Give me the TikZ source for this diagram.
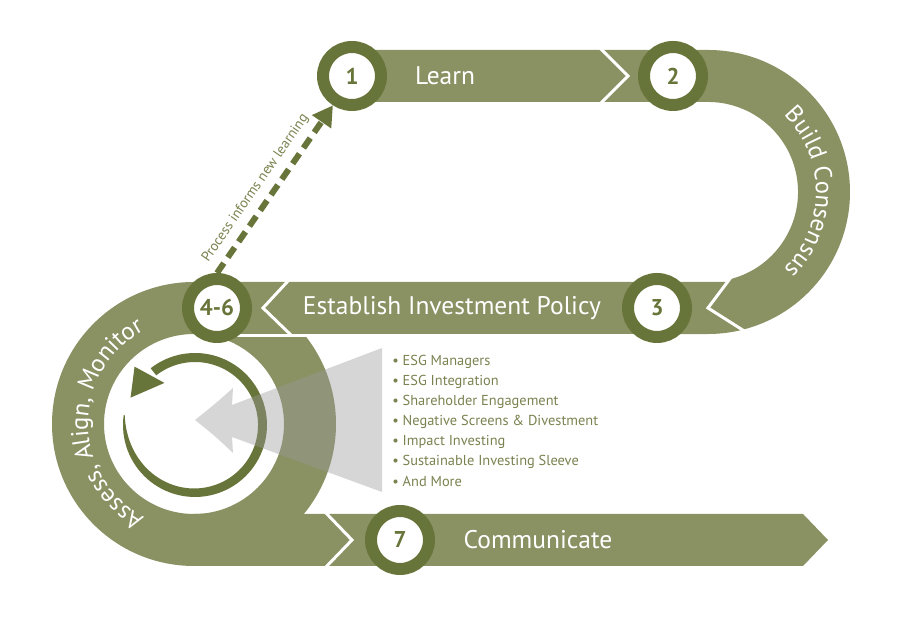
\documentclass[tikz,border=0pt]{standalone}
\usepackage{fontspec}
\setmainfont{PT Sans}
\usepackage{tikz}
\usetikzlibrary{arrows.meta,positioning,decorations.text}
\definecolor{bandolive}{HTML}{8A9163}
\definecolor{darkolive}{HTML}{68753A}
\definecolor{listolive}{HTML}{7A8350}

\begin{document}
\begin{tikzpicture}[x=0.02cm,y=0.02cm,
  band/.style={fill=bandolive},
  gap/.style={draw=white,line width=0.06cm},
  stage/.style={circle,fill=white,draw=darkolive,line width=0.24cm,minimum size=1.16cm,inner sep=0pt,font=\fontsize{13}{14}\selectfont\bfseries,text=darkolive},
  title/.style={font=\fontsize{14.5}{16}\selectfont,text=white},
  item/.style={anchor=west,inner sep=0pt,font=\fontsize{8.2}{9}\selectfont,text=listolive},
  arctext/.style={decorate,decoration={text along path,text align=center,text color=white,text={|\fontsize{14}{15}\selectfont|#1}}},
  dasharrow/.style={draw=darkolive,line width=0.12cm,dash pattern=on 0.24cm off 0.14cm,-{Triangle[length=0.4cm,width=0.44cm]}},
  note/.style={font=\fontsize{8}{9}\selectfont,text=listolive,inner sep=1pt}]

  \fill[white] (0,0) rectangle (900,644);
  \useasboundingbox (0,0) rectangle (900,644);

  \begin{scope}
    \clip (194,128) rectangle (400,306);
    \fill[band,even odd rule] (194,220) circle[radius=142] (194,220) circle[radius=90];
  \end{scope}
  \fill[band] (287,362) -- (194,362) arc[start angle=90,end angle=270,radius=142]
    -- (327,78) -- (352,104) -- (327,130) -- (194,130) arc[start angle=270,end angle=90,radius=90]
    -- (290,310) -- (263,336) -- cycle;
  \fill[band] (327,130) -- (352,104) -- (327,78) -- (803,78) -- (828,104) -- (803,130) -- cycle;
  \fill[band] (263,336) -- (287,362) -- (727.7,362) -- (708,336) -- (742.4,314.2)
    arc[start angle=-76,end angle=-90,radius=142] -- (290,310) -- cycle;
  \fill[band] (600,594) -- (708,594) arc[start angle=90,end angle=-76,radius=142] -- (708,336)
    -- (729.8,364.7) arc[start angle=-76,end angle=90,radius=90] -- (600,542) -- (628,568) -- cycle;
  \fill[band] (352,594) -- (600,594) -- (628,568) -- (600,542) -- (352,542) -- cycle;

  \draw[gap] (599,597) -- (628,568) -- (599,539);
  \draw[gap] (732,368) -- (708,336) -- (745.8,312);
  \draw[gap] (289,364) -- (263,336) -- (292,308);
  \draw[gap] (325,132) -- (352,104) -- (325,76);

  \begin{scope}[shift={(195,219)}]
    \fill[darkolive] plot[domain=172:488,samples=90,variable=\t] ({72*cos(\t)},{72*sin(\t)})
      -- plot[domain=488:172,samples=90,variable=\t] ({(63+8*exp(-(\t-172)/35))*cos(\t)},{(63+8*exp(-(\t-172)/35))*sin(\t)}) -- cycle;
    \fill[darkolive] (136:84) -- (157:70) -- (126:52) -- cycle;
  \end{scope}

  \fill[black!40,opacity=0.4] (382,296) -- (232,239) -- (233,256) .. controls (215,240) .. (195,224)
    .. controls (215,208) .. (233,191) -- (232,207) -- (382,152) -- cycle;

  \node[stage] (c1) at (352,568) {1};
  \node[stage] (c2) at (673,568) {2};
  \node[stage] (c3) at (657,336) {3};
  \node[stage] (c46) at (217,336) {4-6};
  \node[stage] (c7) at (400,104) {7};

  \node[title] (learn) at (445,568) {Learn};
  \node[title] (policy) at (452,336) {Establish Investment Policy};
  \node[title] (comm) at (538,104) {Communicate};

  \path[arctext=Build Consensus] ([shift={(80:108)}]708,452) arc[start angle=80,end angle=-80,radius=108];
  \path[arctext={Assess, Align, Monitor}] ([shift={(260:106)}]194,220) arc[start angle=260,end angle=100,radius=106];

  \node[item] (l1) at (392,282) {• ESG Managers};
  \node[item] (l2) at (392,262) {• ESG Integration};
  \node[item] (l3) at (392,242) {• Shareholder Engagement};
  \node[item] (l4) at (392,222) {• Negative Screens \& Divestment};
  \node[item] (l5) at (392,202) {• Impact Investing};
  \node[item] (l6) at (392,182) {• Sustainable Investing Sleeve};
  \node[item] (l7) at (392,163) {• And More};

  \draw[dasharrow] (c46.north) -- node[note,sloped,above=3pt,pos=0.45] {Process informs new learning} (c1.237);
\end{tikzpicture}
\end{document}
